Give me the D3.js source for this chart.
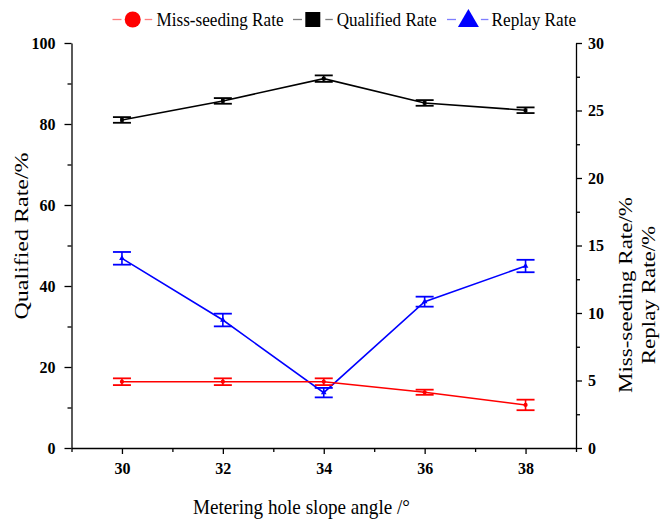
<!DOCTYPE html>
<html>
<head>
<meta charset="utf-8">
<script src="https://cdn.jsdelivr.net/npm/d3@7/dist/d3.min.js"></script>
<style>
  html, body { margin: 0; padding: 0; background: #fff; }
  svg { display: block; }
  text { font-family: "Liberation Serif", "Times New Roman", serif; }
</style>
</head>
<body>
<svg id="chart" width="660" height="519"></svg>
<script>
// Metering hole slope angle (°)
const angles = [30, 32, 34, 36, 38];
// Qualified rate (%), left axis
const qualified = [81.0, 85.7, 91.2, 85.2, 83.4];
const qualifiedErr = [0.7, 0.7, 0.8, 0.7, 0.7];
// Miss-seeding rate (%), right axis
const missSeeding = [4.91, 4.91, 4.91, 4.13, 3.19];
const missSeedingErr = [0.25, 0.25, 0.25, 0.19, 0.39];
// Replay rate (%), right axis
const replay = [14.05, 9.48, 4.10, 10.84, 13.48];
const replayErr = [0.47, 0.47, 0.35, 0.37, 0.46];

const xTicks = [30, 32, 34, 36, 38];
const leftTicks = [0, 20, 40, 60, 80, 100];
const rightTicks = [0, 5, 10, 15, 20, 25, 30];

const serif = "'Liberation Serif', 'Times New Roman', serif";
const svg = d3.select("#chart");
const plotLeft = 71.5, plotRight = 576, plotTop = 43, plotBottom = 448;

const x = d3.scaleLinear().domain([29, 39]).range([plotLeft, plotRight]);
const yL = d3.scaleLinear().domain([0, 100]).range([plotBottom, plotTop]);
const yR = d3.scaleLinear().domain([0, 30]).range([plotBottom, plotTop]);

// Axes
const tickFont = g => {
  g.attr("font-family", serif).style("font-family", serif);
  g.selectAll("text")
    .style("font-family", serif)
    .attr("font-size", 16).attr("font-weight", "bold").attr("fill", "#000");
};

function styleAxis(g) {
  g.select(".domain").attr("stroke", "#000").attr("stroke-width", 1.3);
  g.selectAll(".tick line").attr("stroke", "#000").attr("stroke-width", 1.3);
}

// minor ticks
svg.append("g").attr("transform", `translate(0,${plotBottom})`)
  .call(d3.axisBottom(x).tickValues([29, 31, 33, 35, 37, 39]).tickSize(4).tickFormat(""))
  .call(styleAxis).call(g => g.select(".domain").remove());
svg.append("g").attr("transform", `translate(${plotLeft},0)`)
  .call(d3.axisLeft(yL).tickValues([10, 30, 50, 70, 90]).tickSize(4).tickFormat(""))
  .call(styleAxis).call(g => g.select(".domain").remove());
svg.append("g").attr("transform", `translate(${plotRight},0)`)
  .call(d3.axisRight(yR).tickValues([2.5, 7.5, 12.5, 17.5, 22.5, 27.5]).tickSize(4).tickFormat(""))
  .call(styleAxis).call(g => g.select(".domain").remove());

// major ticks
svg.append("g").attr("transform", `translate(0,${plotBottom})`)
  .call(d3.axisBottom(x).tickValues(xTicks).tickSize(6).tickPadding(9).tickSizeOuter(0))
  .call(styleAxis).call(tickFont);
svg.append("g").attr("transform", `translate(${plotLeft},0)`)
  .call(d3.axisLeft(yL).tickValues(leftTicks).tickSize(7).tickPadding(9).tickSizeOuter(0))
  .call(styleAxis).call(tickFont);
svg.append("g").attr("transform", `translate(${plotRight},0)`)
  .call(d3.axisRight(yR).tickValues(rightTicks).tickSize(6).tickPadding(6).tickSizeOuter(0))
  .call(styleAxis).call(tickFont);

// Axis titles (slightly condensed horizontally)
svg.append("text").attr("x", 193).attr("y", 513.5)
  .attr("font-size", 22)
  .attr("textLength", 217).attr("lengthAdjust", "spacingAndGlyphs")
  .text("Metering hole slope angle /°");
svg.append("text").attr("transform", `translate(28,236) scale(0.8,1) rotate(-90)`)
  .attr("text-anchor", "middle").attr("font-size", 24)
  .text("Qualified Rate/%");
svg.append("text").attr("transform", `translate(632,295) scale(0.8,1) rotate(-90)`)
  .attr("text-anchor", "middle").attr("font-size", 23)
  .text("Miss-seeding Rate/%");
svg.append("text").attr("transform", `translate(655,295) scale(0.8,1) rotate(-90)`)
  .attr("text-anchor", "middle").attr("font-size", 23)
  .text("Replay Rate/%");

// Series
const series = [
  { name: "Miss-seeding Rate", vals: missSeeding, err: missSeedingErr, y: yR, color: "#ff0000", marker: "circle" },
  { name: "Qualified Rate", vals: qualified, err: qualifiedErr, y: yL, color: "#000000", marker: "square" },
  { name: "Replay Rate", vals: replay, err: replayErr, y: yR, color: "#0000ff", marker: "triangle" }
];

const symbolType = { circle: d3.symbolCircle, square: d3.symbolSquare, triangle: d3.symbolTriangle };

// draw Qualified first, then Replay, then Miss-seeding
[series[1], series[2], series[0]].forEach(s => {
  const g = svg.append("g");
  const pts = angles.map((a, i) => ({ a, v: s.vals[i], e: s.err[i] }));
  const line = d3.line().x(d => x(d.a)).y(d => s.y(d.v));
  g.append("path").datum(pts).attr("d", line)
    .attr("fill", "none").attr("stroke", s.color).attr("stroke-width", 1.6);
  const eb = g.selectAll(".eb").data(pts).join("g");
  eb.append("line")
    .attr("x1", d => x(d.a)).attr("x2", d => x(d.a))
    .attr("y1", d => s.y(d.v - d.e)).attr("y2", d => s.y(d.v + d.e))
    .attr("stroke", s.color).attr("stroke-width", 1.6);
  [-1, 1].forEach(sg => {
    eb.append("line")
      .attr("x1", d => x(d.a) - 9).attr("x2", d => x(d.a) + 9)
      .attr("y1", d => s.y(d.v + sg * d.e)).attr("y2", d => s.y(d.v + sg * d.e))
      .attr("stroke", s.color).attr("stroke-width", 1.8);
  });
  g.selectAll(".mk").data(pts).join("path")
    .attr("transform", d => `translate(${x(d.a)},${s.y(d.v)})`)
    .attr("d", d3.symbol().type(symbolType[s.marker]).size(14))
    .attr("fill", s.color);
});

// Legend: short line stubs either side of a large marker, then the label
const legendItems = [
  { s: series[0], x0: 112.5, cx: 132.7, half: 12, tx: 156.5, tl: 127, size: Math.PI * 8 * 8 },
  { s: series[1], x0: 293, cx: 312.8, half: 12.5, tx: 336.7, tl: 100, size: 15 * 15 },
  { s: series[2], x0: 447, cx: 468.4, half: 12.5, tx: 491.6, tl: 84.5, size: 190 }
];
const ly = 19.5;
legendItems.forEach(({ s, x0, cx, half, tx, tl, size }) => {
  const g = svg.append("g");
  g.append("line").attr("x1", x0).attr("x2", x0 + 9).attr("y1", ly).attr("y2", ly)
    .attr("stroke", s.color).attr("stroke-width", 1.3).attr("opacity", 0.5);
  g.append("line").attr("x1", cx + half).attr("x2", cx + half + 7.5).attr("y1", ly).attr("y2", ly)
    .attr("stroke", s.color).attr("stroke-width", 1.3).attr("opacity", 0.5);
  g.append("path").attr("transform", `translate(${cx},${s.marker === "triangle" ? ly + 1.5 : ly})`)
    .attr("d", d3.symbol().type(symbolType[s.marker]).size(size))
    .attr("fill", s.color);
  g.append("text").attr("x", tx).attr("y", 25.5)
    .attr("font-size", 18.5)
    .attr("textLength", tl).attr("lengthAdjust", "spacingAndGlyphs")
    .text(s.name);
});
</script>
</body>
</html>
